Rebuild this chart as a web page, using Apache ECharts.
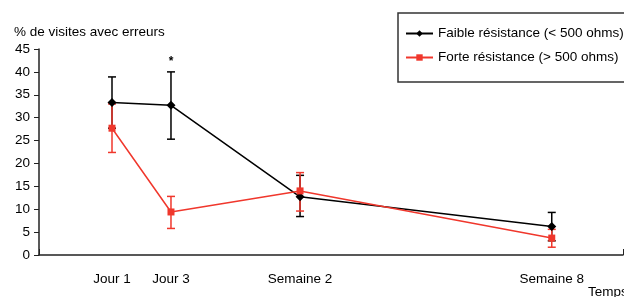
<!DOCTYPE html>
<html>
<head>
<meta charset="utf-8">
<script src="https://cdn.jsdelivr.net/npm/echarts@6/dist/echarts.min.js"></script>
<style>
  html, body { margin: 0; padding: 0; background: #fff; }
  #chart { width: 624px; height: 297px; }
</style>
</head>
<body>
<div id="chart"></div>
<script>
// time points, placed along the axis as in the figure
var categories = ['Jour 1', 'Jour 3', 'Semaine 2', 'Semaine 8'];
var xPos = [12.5, 22.6, 44.7, 87.8];

var faible = [33.3, 32.7, 12.7, 6.2];
var faibleLow = [27.7, 25.3, 8.4, 3.1];
var faibleHigh = [38.9, 40.0, 17.4, 9.3];

var forte = [27.7, 9.4, 14.0, 3.7];
var forteLow = [22.4, 5.8, 9.6, 1.7];
var forteHigh = [33.0, 12.8, 18.0, 5.6];

var yTicks = [0, 5, 10, 15, 20, 25, 30, 35, 40, 45];

var font = 'Liberation Sans, Arial, sans-serif';

function pts(ys) {
    return ys.map(function (y, i) { return [xPos[i], y]; });
}
function bars(lo, hi) {
    return lo.map(function (l, i) { return [xPos[i], l, hi[i]]; });
}

function errorBar(color) {
    return function (params, api) {
        var x = api.value(0);
        var lo = api.coord([x, api.value(1)]);
        var hi = api.coord([x, api.value(2)]);
        var w = 4;
        var style = { stroke: color, lineWidth: 1.5 };
        return {
            type: 'group',
            children: [
                { type: 'line', shape: { x1: lo[0], y1: lo[1], x2: hi[0], y2: hi[1] }, style: style },
                { type: 'line', shape: { x1: lo[0] - w, y1: lo[1], x2: lo[0] + w, y2: lo[1] }, style: style },
                { type: 'line', shape: { x1: hi[0] - w, y1: hi[1], x2: hi[0] + w, y2: hi[1] }, style: style }
            ]
        };
    };
}

var chart = echarts.init(document.getElementById('chart'));
chart.setOption({
    animation: false,
    grid: { left: 39, right: 1, top: 49, bottom: 42 },
    legend: {
        orient: 'vertical',
        left: 398,
        top: 13,
        padding: [13, 60, 17, 7],
        itemGap: 9,
        itemWidth: 27,
        itemHeight: 8,
        borderColor: '#333',
        borderWidth: 1.5,
        textStyle: { fontFamily: font, fontSize: 13.5, color: '#000', lineHeight: 15 },
        data: ['Faible résistance (< 500 ohms)', 'Forte résistance (> 500 ohms)']
    },
    xAxis: {
        type: 'value',
        min: 0,
        max: 100,
        splitLine: { show: false },
        axisLine: { show: true, lineStyle: { color: '#222', width: 1.5 } },
        axisTick: { show: true, customValues: [0, 100], length: 6, inside: true, lineStyle: { color: '#222' } },
        axisLabel: {
            customValues: xPos,
            margin: 17,
            fontFamily: font,
            fontSize: 13.5,
            color: '#000',
            formatter: function (v) {
                var i = xPos.indexOf(v);
                return i >= 0 ? categories[i] : '';
            }
        }
    },
    yAxis: {
        type: 'value',
        min: 0,
        max: 45,
        interval: 5,
        splitLine: { show: false },
        axisLine: { show: true, lineStyle: { color: '#222', width: 1.5 } },
        axisTick: { show: true, length: 5, lineStyle: { color: '#222' } },
        axisLabel: {
            margin: 9,
            fontFamily: font,
            fontSize: 13.5,
            color: '#000',
            formatter: function (v) { return yTicks.indexOf(v) >= 0 ? String(v) : ''; }
        }
    },
    graphic: [
        { type: 'text', left: 14, top: 25, style: { text: '% de visites avec erreurs', font: '13.5px ' + font, fill: '#000' } },
        { type: 'text', left: 588, top: 285, style: { text: 'Temps', font: '13.5px ' + font, fill: '#000' } }
    ],
    series: [
        {
            name: 'Faible résistance (< 500 ohms)',
            type: 'line',
            data: pts(faible),
            symbol: 'diamond',
            symbolSize: 9,
            z: 4,
            itemStyle: { color: '#000' },
            lineStyle: { color: '#000', width: 1.5 }
        },
        {
            name: 'Forte résistance (> 500 ohms)',
            type: 'line',
            data: pts(forte),
            symbol: 'rect',
            symbolSize: 7,
            z: 5,
            itemStyle: { color: '#f0372c' },
            lineStyle: { color: '#f0372c', width: 1.5 }
        },
        {
            type: 'custom',
            renderItem: errorBar('#000'),
            data: bars(faibleLow, faibleHigh),
            z: 3,
            silent: true
        },
        {
            type: 'custom',
            renderItem: errorBar('#f0372c'),
            data: bars(forteLow, forteHigh),
            z: 3,
            silent: true
        },
        {
            type: 'custom',
            silent: true,
            data: [[xPos[1], 42.3, '*']],
            renderItem: function (params, api) {
                var p = api.coord([api.value(0), api.value(1)]);
                return {
                    type: 'text',
                    x: p[0], y: p[1],
                    style: { text: '*', font: 'bold 12px ' + font, fill: '#000', align: 'center', verticalAlign: 'middle' }
                };
            }
        }
    ]
});
</script>
</body>
</html>
